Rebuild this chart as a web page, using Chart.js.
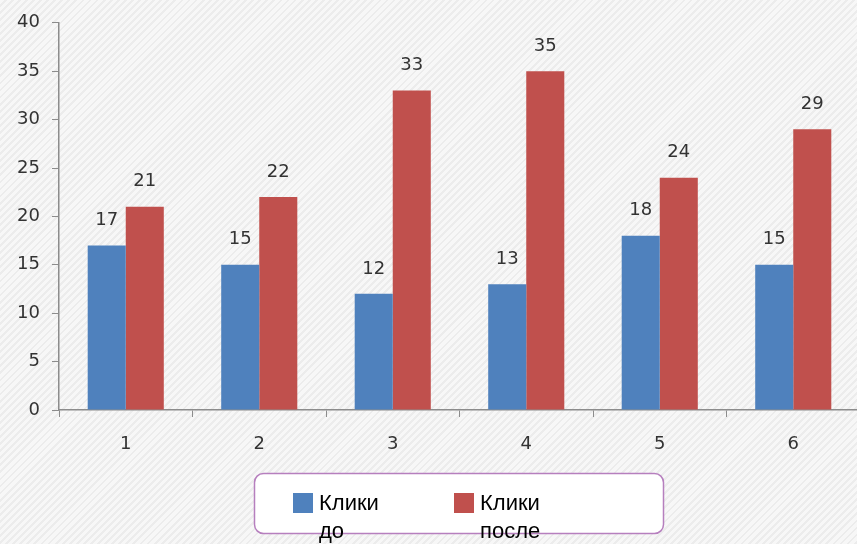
<!DOCTYPE html>
<html>
<head>
<meta charset="utf-8">
<script src="https://cdn.jsdelivr.net/npm/chart.js@4"></script>
<style>
  html, body { margin: 0; padding: 0; overflow: hidden; }
  body {
    width: 857px; height: 544px;
    background: repeating-linear-gradient(135deg, #f7f7f7 0px, #f7f7f7 3px, #ececec 3px, #ececec 5px);
  }
  #wrap { position: relative; width: 862px; height: 544px; }
</style>
</head>
<body>
<div id="wrap"><canvas id="chart"></canvas></div>
<script>
const categories = ["1", "2", "3", "4", "5", "6"];
const clicksBefore = [17, 15, 12, 13, 18, 15];
const clicksAfter = [21, 22, 33, 35, 24, 29];
const seriesNames = ["Клики до", "Клики после"];
const seriesColors = ["#4f81bd", "#c0504d"];

// numbers above every bar
const valueLabels = {
  id: "valueLabels",
  afterDatasetsDraw(chart) {
    const ctx = chart.ctx;
    ctx.save();
    ctx.font = "18px 'DejaVu Sans'";
    ctx.fillStyle = "#333333";
    ctx.textAlign = "center";
    ctx.textBaseline = "middle";
    chart.data.datasets.forEach((ds, i) => {
      chart.getDatasetMeta(i).data.forEach((bar, j) => {
        ctx.fillText(ds.data[j], bar.x, bar.y - 25);
      });
    });
    ctx.restore();
  },
};

// boxed legend under the axis, labels wrap word by word
const boxLegend = {
  id: "boxLegend",
  afterDraw(chart) {
    const ctx = chart.ctx;
    ctx.save();
    ctx.beginPath();
    ctx.roundRect(254.5, 473.5, 409, 60, 9);
    ctx.fillStyle = "#ffffff";
    ctx.fill();
    ctx.lineWidth = 1.5;
    ctx.strokeStyle = "#b67fbe";
    ctx.stroke();
    const itemX = [293, 454];
    ctx.font = "22px 'Liberation Sans'";
    ctx.textBaseline = "middle";
    ctx.textAlign = "left";
    chart.data.datasets.forEach((ds, i) => {
      ctx.fillStyle = ds.backgroundColor;
      ctx.fillRect(itemX[i], 493, 20, 20);
      ctx.fillStyle = "#000000";
      ds.label.split(" ").forEach((w, k) => {
        ctx.fillText(w, itemX[i] + 26, 504 + k * 28);
      });
    });
    ctx.restore();
  },
};

new Chart(document.getElementById("chart"), {
  type: "bar",
  data: {
    labels: categories,
    datasets: [
      { label: seriesNames[0], data: clicksBefore, backgroundColor: seriesColors[0] },
      { label: seriesNames[1], data: clicksAfter, backgroundColor: seriesColors[1] },
    ],
  },
  options: {
    responsive: true,
    maintainAspectRatio: false,
    animation: false,
    layout: { padding: { top: 20, right: 2, left: 0, bottom: 0 } },
    datasets: { bar: { categoryPercentage: 0.57, barPercentage: 1.0 } },
    plugins: { legend: { display: false }, tooltip: { enabled: false } },
    scales: {
      x: {
        grid: { offset: true, drawOnChartArea: false, drawTicks: true, tickLength: 7, color: "#8c8c8c" },
        border: { display: true, color: "#8c8c8c", width: 1.5 },
        ticks: { color: "#333333", font: { family: "DejaVu Sans", size: 18 }, padding: 17 },
        afterFit(scale) { scale.height = 134; },
      },
      y: {
        min: 0,
        max: 40,
        ticks: { stepSize: 5, color: "#333333", font: { family: "DejaVu Sans", size: 18 }, padding: 12 },
        grid: { drawOnChartArea: false, drawTicks: true, tickLength: 7, color: "#8c8c8c" },
        border: { display: true, color: "#8c8c8c", width: 1.5 },
        afterFit(scale) { scale.width = 59; },
      },
    },
  },
  plugins: [valueLabels, boxLegend],
});
</script>
</body>
</html>
